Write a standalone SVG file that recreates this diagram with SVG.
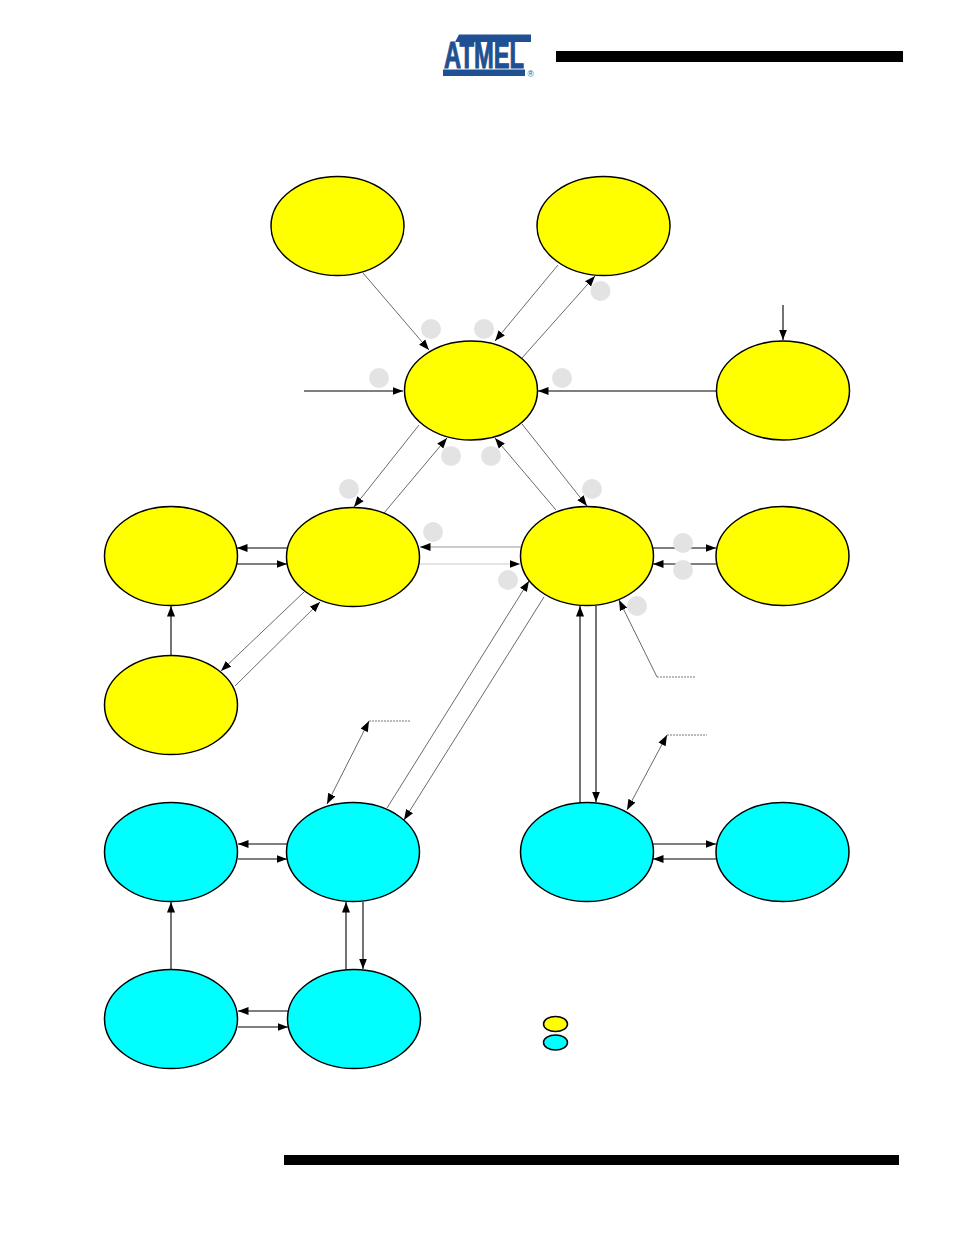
<svg xmlns="http://www.w3.org/2000/svg" width="954" height="1235" viewBox="0 0 954 1235">
  <style>
    .state { stroke: #000; stroke-width: 1.5; }
    .flash { fill: #ffff00; }
    .ram { fill: #00ffff; }
    .wire { fill: none; stroke: #000; stroke-width: 1.1; marker-end: url(#tip); }
    .thin { stroke: #444; stroke-width: 0.8; }
    .pale { stroke: #999; stroke-width: 1; }
    .paler { stroke: #ccc; stroke-width: 1.2; }
    .note { fill: none; stroke: #555; stroke-width: 0.8; stroke-dasharray: 2 1; }
    .badge { fill: #e3e3e3; }
    .brand { fill: #1f5093; }
  </style>
  <defs>
    <marker id="tip" markerUnits="userSpaceOnUse" markerWidth="11" markerHeight="9" refX="10.500" refY="4.500" orient="auto">
      <path d="M0,0.500 L10.500,4.500 L0,8.500 Z" fill="#000"/>
    </marker>
    <marker id="tail" markerUnits="userSpaceOnUse" markerWidth="11" markerHeight="9" refX="0" refY="4.500" orient="auto">
      <path d="M10.500,0.500 L0,4.500 L10.500,8.500 Z" fill="#000"/>
    </marker>
  </defs>

  <rect width="954" height="1235" fill="#fff"/>

  <!-- page furniture -->
  <g id="header">
    <rect x="556" y="51" width="347" height="11" fill="#000"/>
    <polygon class="brand" points="459,34.500 531,34.500 531,42 455,42"/>
    <text class="brand" transform="translate(444,68) scale(0.66,1)" font-family="Liberation Sans, Arial, sans-serif" font-weight="bold" font-size="36" stroke="#1f5093" stroke-width="1">ATMEL</text>
    <rect class="brand" x="443" y="69.500" width="82" height="6.500"/>
    <text class="brand" x="527.500" y="77" font-family="Liberation Sans, Arial, sans-serif" font-size="8.500">®</text>
  </g>
  <rect id="footer" x="284" y="1155" width="615" height="10" fill="#000"/>

  <!-- transitions -->
  <g id="connectors">
    <path class="wire thin" d="M363,273 L429,350"/>
    <path class="wire thin" d="M558,265 L495,341"/>
    <path class="wire thin" d="M522,358 L595,276"/>
    <path class="wire" d="M304,391 L403,391"/>
    <path class="wire" d="M716,391 L538,391"/>
    <path class="wire" d="M783,305 L783,340"/>
    <path class="wire thin" d="M419,425 L354,507"/>
    <path class="wire thin" d="M384,513 L447,438"/>
    <path class="wire thin" d="M522,424 L587,506"/>
    <path class="wire thin" d="M556,510 L495,438"/>
    <path class="wire pale" d="M521,547 L420,547"/>
    <path class="wire paler" d="M420,564 L520,564"/>
    <path class="wire" d="M653,548 L716,548"/>
    <path class="wire" d="M716,564 L653,564"/>
    <path class="wire" d="M287,548 L237,548"/>
    <path class="wire" d="M237,564 L287,564"/>
    <path class="wire" d="M171,655 L171,606"/>
    <path class="wire thin" d="M304,592 L221,671"/>
    <path class="wire thin" d="M235,686 L320,602"/>
    <path class="wire thin" d="M387,808 L529,581"/>
    <path class="wire thin" d="M544,597 L404,820"/>
    <path class="wire" d="M580,802 L580,606"/>
    <path class="wire" d="M596,606 L596,802"/>
    <path class="wire" d="M287,844 L238,844"/>
    <path class="wire" d="M238,859 L287,859"/>
    <path class="wire" d="M653,844 L716,844"/>
    <path class="wire" d="M716,859 L653,859"/>
    <path class="wire" d="M171,969 L171,902"/>
    <path class="wire" d="M346,969 L346,902"/>
    <path class="wire" d="M363,902 L363,969"/>
    <path class="wire" d="M288,1011 L238,1011"/>
    <path class="wire" d="M238,1027 L288,1027"/>

    <!-- callout leaders -->
    <path class="wire thin" d="M657,677 L619,600"/>
    <path class="note" d="M657,677 L696,677"/>
    <path class="wire thin" marker-start="url(#tail)" d="M667,735 L627,810"/>
    <path class="note" d="M667,735 L707,735"/>
    <path class="wire thin" marker-start="url(#tail)" d="M369,721 L327,804"/>
    <path class="note" d="M369,721 L410,721"/>
  </g>

  <!-- number badges -->
  <g id="badges">
    <circle class="badge" cx="431" cy="329" r="10"/>
    <circle class="badge" cx="484" cy="329" r="10"/>
    <circle class="badge" cx="600.500" cy="291" r="10"/>
    <circle class="badge" cx="379" cy="378" r="10"/>
    <circle class="badge" cx="562" cy="378" r="10"/>
    <circle class="badge" cx="451" cy="456" r="10"/>
    <circle class="badge" cx="491" cy="456" r="10"/>
    <circle class="badge" cx="349" cy="489" r="10"/>
    <circle class="badge" cx="592" cy="489" r="10"/>
    <circle class="badge" cx="433" cy="532" r="10"/>
    <circle class="badge" cx="508" cy="580" r="10"/>
    <circle class="badge" cx="683" cy="543" r="10"/>
    <circle class="badge" cx="683" cy="570" r="10"/>
    <circle class="badge" cx="637" cy="606" r="10"/>
  </g>

  <!-- states -->
  <g id="state-top-left"><ellipse class="state flash" cx="337.500" cy="226" rx="66.500" ry="49.500"/></g>
  <g id="state-top-right"><ellipse class="state flash" cx="603.500" cy="226" rx="66.500" ry="49.500"/></g>
  <g id="state-centre"><ellipse class="state flash" cx="471" cy="390.500" rx="66.500" ry="49.500"/></g>
  <g id="state-right"><ellipse class="state flash" cx="783" cy="390.500" rx="66.500" ry="49.500"/></g>
  <g id="state-mid-far-left"><ellipse class="state flash" cx="171" cy="556" rx="66.500" ry="49.500"/></g>
  <g id="state-mid-left"><ellipse class="state flash" cx="353" cy="557" rx="66.500" ry="49.500"/></g>
  <g id="state-mid-right"><ellipse class="state flash" cx="587" cy="556" rx="66.500" ry="49.500"/></g>
  <g id="state-mid-far-right"><ellipse class="state flash" cx="782.500" cy="556" rx="66.500" ry="49.500"/></g>
  <g id="state-lower-left"><ellipse class="state flash" cx="171" cy="705" rx="66.500" ry="49.500"/></g>
  <g id="ram-a"><ellipse class="state ram" cx="171" cy="852" rx="66.500" ry="49.500"/></g>
  <g id="ram-b"><ellipse class="state ram" cx="353" cy="852" rx="66.500" ry="49.500"/></g>
  <g id="ram-c"><ellipse class="state ram" cx="587" cy="852" rx="66.500" ry="49.500"/></g>
  <g id="ram-d"><ellipse class="state ram" cx="782.500" cy="852" rx="66.500" ry="49.500"/></g>
  <g id="ram-e"><ellipse class="state ram" cx="171" cy="1019" rx="66.500" ry="49.500"/></g>
  <g id="ram-f"><ellipse class="state ram" cx="354" cy="1019" rx="66.500" ry="49.500"/></g>

  <!-- legend -->
  <g id="legend-flash"><ellipse class="state flash" cx="555.500" cy="1024" rx="12" ry="7.500"/></g>
  <g id="legend-ram"><ellipse class="state ram" cx="555.500" cy="1042.500" rx="12" ry="7.500"/></g>
</svg>
